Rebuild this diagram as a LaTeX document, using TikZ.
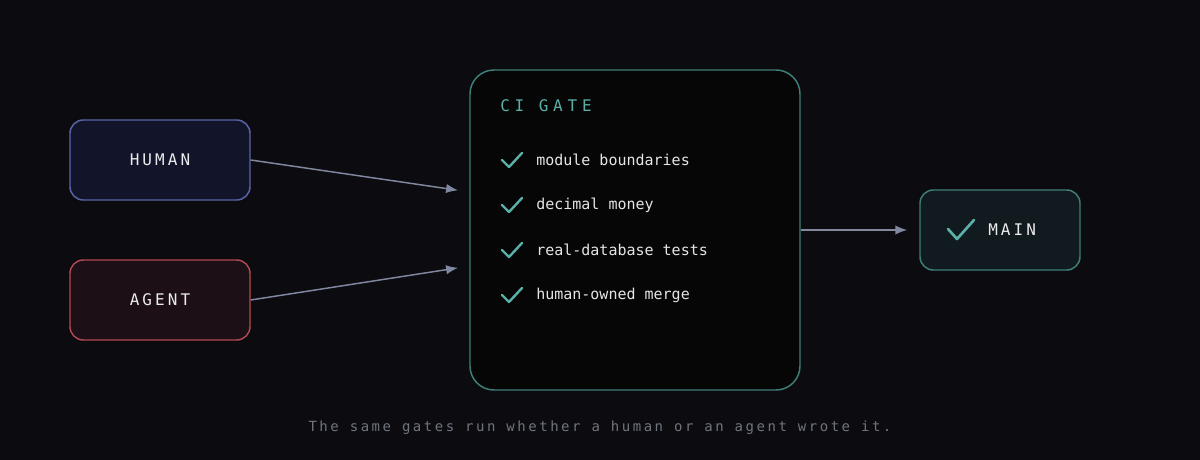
\documentclass[tikz,border=0pt]{standalone}
\usepackage{fontspec}
\setmonofont{DejaVu Sans Mono}
\newfontfamily\labelfont[LetterSpace=19]{DejaVu Sans Mono}
\newfontfamily\titlefont[LetterSpace=30]{DejaVu Sans Mono}
\newfontfamily\notefont[LetterSpace=18]{DejaVu Sans Mono}
\usetikzlibrary{arrows.meta,positioning}
\definecolor{bgdark}{HTML}{0C0C10}
\definecolor{humanfill}{HTML}{12142A}
\definecolor{humanline}{HTML}{5A64A8}
\definecolor{agentfill}{HTML}{1C1016}
\definecolor{agentline}{HTML}{B04A4F}
\definecolor{gatefill}{HTML}{060606}
\definecolor{gateline}{HTML}{3F7F78}
\definecolor{mainfill}{HTML}{111A1E}
\definecolor{teal}{HTML}{5AB0A8}
\definecolor{arrowgray}{HTML}{8088A0}
\definecolor{notegray}{HTML}{70747E}
\tikzset{
  actor/.style={rounded corners=10pt,line width=1.1pt,minimum width=180*0.75pt,
    minimum height=80*0.75pt,text=white!92!black,font=\labelfont\fontsize{12pt}{14pt}\selectfont},
  feed/.style={-{Latex[length=9pt,width=7pt]},arrowgray,line width=1.1pt,shorten >=12*0.75pt},
  tick/.style={teal,line width=1.8pt,line cap=round,line join=round},
  item/.style={anchor=west,text=white!90!black,font=\ttfamily\fontsize{11.25pt}{13pt}\selectfont,inner sep=0pt}
}
\begin{document}
\begin{tikzpicture}[x=0.75pt,y=-0.75pt]
  \fill[bgdark] (0,0) rectangle (1200,460);

  % Sources
  \node[actor,draw=humanline,fill=humanfill] (human) at (160,160) {HUMAN};
  \node[actor,draw=agentline,fill=agentfill] (agent) at (160,300) {AGENT};

  % Gate
  \node[draw=gateline,fill=gatefill,rounded corners=18pt,line width=1.1pt,
    minimum width=330*0.75pt,minimum height=320*0.75pt] (gate) at (635,230) {};
  \node[anchor=west,teal,font=\titlefont\fontsize{12pt}{14pt}\selectfont,inner sep=0pt] (gatetitle) at (500,106) {CI GATE};
  \foreach \y/\txt [count=\i] in {160/module boundaries,205/decimal money,250/real-database tests,295/human-owned merge}{
    \draw[tick] (502,\y) -- (509,\y+7) -- (522,\y-7);
    \node[item] (check\i) at (536,\y) {\txt};
  }

  % Target
  \node[actor,draw=gateline,fill=mainfill,minimum width=160*0.75pt] (main) at (1000,230) {};
  \draw[tick,line width=2pt] (948,229) -- (957,239) -- (974,220);
  \node[anchor=west,text=white!92!black,font=\labelfont\fontsize{12pt}{14pt}\selectfont,inner sep=0pt] (mainlabel) at (988,230) {MAIN};

  % Flow
  \coordinate (gatein1) at (470,192);
  \coordinate (gatein2) at (470,266);
  \draw[feed] (human.east) -- (gatein1);
  \draw[feed] (agent.east) -- (gatein2);
  \draw[feed] (gate.east) -- (main.west);

  \node[notegray,font=\notefont\fontsize{10.5pt}{12pt}\selectfont] (note) at (600,428) {The same gates run whether a human or an agent wrote it.};
\end{tikzpicture}
\end{document}
